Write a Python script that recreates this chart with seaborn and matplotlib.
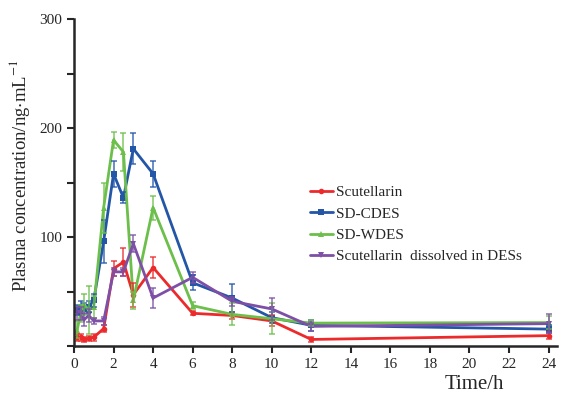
import numpy as np
import pandas as pd
import matplotlib
matplotlib.use("Agg")
import matplotlib.pyplot as plt
import seaborn as sns

# Tiempos de muestreo (h)
tiempos = [0.167, 0.333, 0.5, 0.75, 1, 1.5, 2, 2.5, 3, 4, 6, 8, 10, 12, 24]

# Concentraciones medias (ng/mL) y desviaciones
scut_media = [8, 8, 6, 7, 8, 16, 71, 77, 47, 72, 30, 28, 23, 6, 9.5]
scut_sd = [3, 3, 2, 2, 3, 3, 7, 13, 11, 10, 2, 3, 5, 2, 3]

cdes_media = [33, 35, 34, 36, 42, 96, 158, 136, 181, 158, 58, 44, 26, 19, 15.5]
cdes_sd = [5, 6, 5, 5, 6, 20, 12, 5, 14, 12, 7, 13, 5, 5, 4]

wdes_media = [15, 30, 38, 33, 36, 127, 189, 178, 42, 127, 37, 29, 25, 21, 21.5]
wdes_sd = [8, 8, 10, 22, 10, 23, 7, 17, 8, 11, 3, 10, 14, 3, 6]

des_media = [30, 30, 24, 28, 23, 23, 68, 68, 94, 44, 63, 41, 34, 18, 20.5]
des_sd = [6, 6, 6, 6, 3, 4, 4, 4, 8, 9, 5, 4, 10, 4, 9]

nombres = ["Scutellarin", "SD-CDES", "SD-WDES", "Scutellarin  dissolved in DESs"]
colores = ["#ec2a2c", "#2456a8", "#6dbf4b", "#7e4fa6"]
marcadores = ["o", "s", "^", "v"]

medias = [scut_media, cdes_media, wdes_media, des_media]
sds = [scut_sd, cdes_sd, wdes_sd, des_sd]

df = pd.concat([
    pd.DataFrame({"tiempo": tiempos, "conc": m, "sd": s, "grupo": n})
    for m, s, n in zip(medias, sds, nombres)
])

sns.set_style("ticks")
plt.rcParams["font.family"] = ["Liberation Serif", "DejaVu Serif"]
plt.rcParams["mathtext.fontset"] = "stix"

fig = plt.figure(figsize=(5.67, 3.93), dpi=100)
ax = fig.add_axes([0.1305, 0.1196, 0.851, 0.832])

sns.lineplot(data=df, x="tiempo", y="conc", hue="grupo", style="grupo",
             palette=colores, markers=marcadores, dashes=False,
             linewidth=2, markersize=4, markeredgewidth=0, ax=ax)

for n, c in zip(nombres, colores):
    d = df[df["grupo"] == n]
    ax.errorbar(d["tiempo"], d["conc"], yerr=d["sd"], fmt="none",
                ecolor=c, elinewidth=1.1, capsize=2.5, capthick=1.1, alpha=0.85)

ax.set_xlim(0, 24.4)
ax.set_ylim(0, 300)
ax.set_xticks(range(0, 25, 2))
ax.set_yticks(range(0, 301, 50))
ax.set_yticklabels(["", "", "100", "", "200", "", "300"])
ax.tick_params(axis="both", direction="out", length=5, width=1.5, labelsize=11)

for lado in ["left", "bottom"]:
    ax.spines[lado].set_linewidth(1.8)
sns.despine(ax=ax)

ax.set_xlabel("Time/h", fontsize=15)
ax.xaxis.set_label_coords(0.83, -0.09)
ax.set_ylabel("Plasma concentration/ng$\\cdot$mL$^{-1}$", fontsize=13.5)
ax.yaxis.set_label_coords(-0.088, 0.52)

leg = ax.legend(loc="center left", bbox_to_anchor=(0.46, 0.372), frameon=False,
                fontsize=11, handlelength=1.5, handletextpad=0.2, labelspacing=0.5)

plt.savefig("out.png", dpi=100)
plt.close()
